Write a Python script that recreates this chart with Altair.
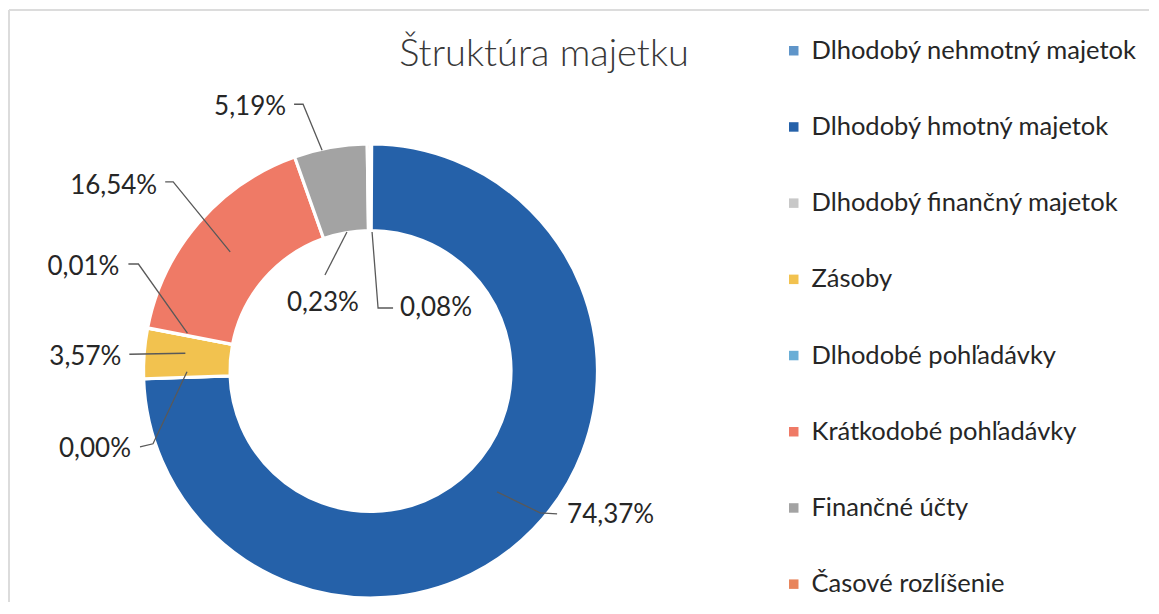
import math
import altair as alt
import pandas as pd

# ---- data ----
categories = [
    "Dlhodobý nehmotný majetok",
    "Dlhodobý hmotný majetok",
    "Dlhodobý finančný majetok",
    "Zásoby",
    "Dlhodobé pohľadávky",
    "Krátkodobé pohľadávky",
    "Finančné účty",
    "Časové rozlíšenie",
]
shares = [0.08, 74.37, 0.00, 3.57, 0.01, 16.54, 5.19, 0.23]
labels = ["0,08%", "74,37%", "0,00%", "3,57%", "0,01%", "16,54%", "5,19%", "0,23%"]

# ---- styling ----
colors = ["#5f95c9", "#2561a9", "#c8c8c8", "#f2c24f", "#6aaed6", "#ef7a66", "#a3a3a3", "#e8855c"]
W, H = 1140, 592
CX, CY = 361.5, 361.0
R_OUT, R_IN = 227, 140.5
FONT = "Lato"

# label layout (leader end radius, angle nudge, text offset, line start, elbow, align)
lead_r = [139, 175, 183.5, 186, 187, 184, 226, 141]
lead_nudge = [0.5, -0.5, 1.7, 1.0, 0.8, -0.4, -2.2, -9.2]
text_off = [(28, 76), (70, 23), (-56, 77), (-64, 4), (-68, -66), (-73, -66), (-36, -43), (-24, 71)]
start_off = [(21, 76), (60, 22), (-47, 75), (-56, 1), (-59, -69), (-65, -70), (-28, -46), (-22, 43)]
elbow_off = [(6, 76), (43, 21), (-34, 72), None, (-49, -69), (-57, -70), (-19, -46), None]
aligns = ["left", "left", "right", "right", "right", "right", "right", "center"]

df = pd.DataFrame({"cat": categories, "val": shares, "idx": list(range(len(categories)))})

total = sum(shares)
cum = 0.0
text_rows, line_rows = [], []
for i, v in enumerate(shares):
    mid = (cum + v / 2) / total * 360.0
    cum += v
    a = math.radians(mid + lead_nudge[i])
    px = CX + lead_r[i] * math.sin(a)
    py = CY - lead_r[i] * math.cos(a)
    tx, ty = text_off[i]
    text_rows.append({"lab": labels[i], "x": px + tx, "y": py + ty, "al": aligns[i]})
    pts = [start_off[i]]
    if elbow_off[i] is not None:
        pts.append(elbow_off[i])
    pts.append((0, 0))
    for k, (dx, dy) in enumerate(pts):
        line_rows.append({"g": i, "k": k, "x": px + dx, "y": py + dy})

tdf = pd.DataFrame(text_rows)
ldf = pd.DataFrame(line_rows)

arcs = alt.Chart(df).mark_arc(
    radius=R_OUT, radius2=R_IN, stroke="white", strokeWidth=3.2
).encode(
    theta=alt.Theta("val:Q", stack=True),
    order=alt.Order("idx:Q"),
    color=alt.Color(
        "cat:N",
        sort=categories,
        scale=alt.Scale(domain=categories, range=colors),
        legend=alt.Legend(
            title=None,
            orient="none",
            legendX=772,
            legendY=28,
            symbolType="square",
            symbolSize=90,
            symbolStrokeWidth=0,
            labelFont=FONT,
            labelFontSize=25.5,
            labelColor="#262626",
            labelLimit=600,
            labelOffset=5,
            rowPadding=49.2,
        ),
    ),
    x=alt.value(CX),
    y=alt.value(CY),
)

lines = alt.Chart(ldf).mark_line(color="#595959", strokeWidth=1.3).encode(
    x=alt.X("x:Q", scale=None),
    y=alt.Y("y:Q", scale=None),
    detail="g:N",
    order="k:Q",
)

def txt(al):
    return alt.Chart(tdf[tdf["al"] == al]).mark_text(
        font=FONT, fontSize=26, color="#262626", align=al, baseline="middle"
    ).encode(x=alt.X("x:Q", scale=None), y=alt.Y("y:Q", scale=None), text="lab:N")

title = alt.Chart(pd.DataFrame({"t": ["Štruktúra majetku"]})).mark_text(
    font=FONT, fontSize=38, fontWeight=300, color="#383838", align="center", baseline="alphabetic"
).encode(x=alt.value(535), y=alt.value(56), text="t:N")

frame_top = alt.Chart(pd.DataFrame({"a": [0]})).mark_rule(color="#dcdcdc", strokeWidth=2).encode(
    x=alt.value(0), x2=alt.value(W), y=alt.value(0)
)
frame_left = alt.Chart(pd.DataFrame({"a": [0]})).mark_rule(color="#dcdcdc", strokeWidth=2).encode(
    x=alt.value(0), y=alt.value(0), y2=alt.value(H)
)

chart = alt.layer(
    frame_top, frame_left, arcs, lines, txt("left"), txt("right"), txt("center"), title
).properties(
    width=W, height=H,
    autosize=alt.AutoSizeParams(type="none"),
    padding={"left": 1, "top": 2, "right": 0, "bottom": 0},
).configure_view(stroke=None)

chart.save("out.html", embed_options={"renderer": "svg", "actions": False})
